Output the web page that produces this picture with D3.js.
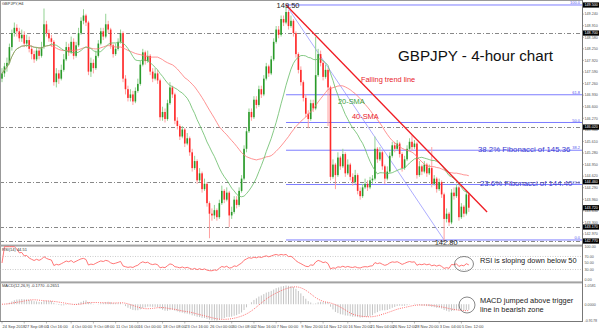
<!DOCTYPE html>
<html>
<head>
<meta charset="utf-8">
<script src="https://cdn.jsdelivr.net/npm/d3@7"></script>
<style>
  body { margin: 0; background: #fff; }
  svg { display: block; font-family: "Liberation Sans", Arial, sans-serif; }
</style>
</head>
<body>
<svg id="chart" width="600" height="330"></svg>
<script>
// 4-hour candles (opens follow the previous close)
const firstOpen = 147.40;
const closes = [
  147.55,147.75,147.85,148.30,148.70,148.85,148.75,148.55,148.65,148.40,
  148.50,148.25,148.10,147.95,148.20,148.05,148.30,148.95,148.70,148.55,
  148.45,147.30,147.55,147.40,147.65,147.95,148.30,148.15,148.45,148.05,
  148.35,148.70,149.05,149.20,149.00,147.60,147.85,147.70,148.05,148.40,
  148.75,148.60,148.95,148.80,148.35,148.10,148.25,148.45,148.70,147.40,
  147.10,146.85,146.95,146.75,147.05,147.25,147.80,148.15,147.90,148.05,
  147.60,147.40,147.55,147.35,146.30,146.45,146.25,146.70,147.15,146.95,
  146.20,146.05,145.75,145.95,145.55,145.70,145.30,144.85,145.05,144.50,
  144.70,144.25,144.40,143.85,143.55,143.50,143.65,143.45,143.85,144.20,
  143.95,144.15,143.50,143.60,143.95,143.80,144.20,144.55,145.40,145.90,
  146.45,146.30,146.80,146.65,147.10,146.95,147.40,147.75,147.55,147.95,
  148.45,148.80,148.65,149.10,149.00,149.30,148.90,149.05,148.70,148.10,
  147.65,147.30,146.85,146.40,146.25,146.70,146.55,147.50,148.10,147.85,
  147.45,147.65,147.15,144.60,144.95,144.65,145.15,144.90,145.25,144.70,
  144.95,144.60,144.45,144.65,144.20,144.05,144.30,144.40,144.30,144.50,
  144.55,145.40,145.10,145.30,144.90,144.55,144.75,145.20,145.50,145.40,
  145.55,145.25,144.85,145.10,145.40,145.60,145.45,145.55,144.65,144.90,
  144.75,144.95,144.70,144.85,144.40,144.55,144.25,144.45,144.10,143.40,
  143.55,143.30,144.15,144.05,144.30,143.45,143.75,143.55,144.10,143.72
];
const highs = [
  147.70,147.85,148.00,148.40,148.80,149.00,148.95,148.85,148.80,148.75,
  148.65,148.60,148.35,148.20,148.30,148.30,148.45,149.40,149.05,148.80,
  148.65,148.50,147.70,147.65,147.80,148.10,148.45,148.40,148.60,148.55,
  148.45,148.85,149.15,149.38,149.25,149.05,148.00,147.95,148.20,148.50,
  148.85,148.85,149.25,149.05,148.85,148.40,148.40,148.55,148.80,148.75,
  147.50,147.20,147.10,147.05,147.15,147.40,147.90,148.25,148.20,148.20,
  148.10,147.70,147.70,147.65,147.40,146.60,146.55,146.80,147.30,147.20,
  147.00,146.30,146.10,146.05,146.00,145.85,145.75,145.40,145.20,145.10,
  144.85,144.75,144.55,144.45,143.90,143.70,143.80,143.70,143.95,144.35,
  144.25,144.30,144.20,143.75,144.05,144.05,144.30,144.65,145.50,146.00,
  146.55,146.55,146.90,146.90,147.20,147.20,147.50,147.85,147.80,148.05,
  148.55,148.90,148.90,149.20,149.20,149.50,149.35,149.20,149.10,148.75,
  148.15,147.75,147.35,146.95,146.50,146.80,146.80,148.59,148.25,148.20,
  147.90,147.80,147.70,147.20,145.10,145.00,145.30,145.20,145.40,145.30,
  145.10,145.00,144.70,144.80,144.70,144.30,144.40,144.55,144.50,144.60,
  144.65,145.75,145.45,145.45,145.35,144.95,144.90,145.30,145.60,145.60,
  145.65,145.60,145.30,145.20,145.50,145.70,145.78,145.65,145.60,145.05,
  144.95,145.05,145.00,144.95,145.45,144.65,144.60,144.55,144.50,144.15,
  143.70,143.60,144.25,144.30,144.40,144.35,143.85,143.80,144.20,144.15
];
const lows = [
  147.30,147.45,147.60,147.80,148.20,148.60,148.60,148.45,148.45,148.30,
  148.30,148.15,147.95,147.85,147.90,147.95,148.00,148.25,148.60,148.45,
  148.30,147.20,147.15,147.25,147.35,147.60,147.90,148.05,148.10,147.95,
  148.00,148.30,148.65,148.95,148.90,147.50,147.45,147.55,147.65,148.00,
  148.35,148.50,148.55,148.70,148.25,148.00,148.05,148.20,148.40,147.30,
  146.95,146.75,146.75,146.65,146.70,147.00,147.20,147.75,147.80,147.85,
  147.50,147.30,147.35,147.25,146.20,146.20,146.15,146.20,146.65,146.85,
  146.10,145.95,145.65,145.70,145.45,145.50,145.20,144.75,144.80,144.40,
  144.45,144.15,144.20,143.75,142.85,143.35,143.40,143.35,143.40,143.80,
  143.85,143.90,143.17,143.40,143.55,143.70,143.75,144.15,144.50,145.30,
  145.85,146.20,146.25,146.55,146.60,146.85,146.90,147.35,147.45,147.50,
  147.90,148.40,148.55,148.60,148.90,148.95,148.80,148.85,148.60,148.00,
  147.55,147.20,146.75,146.30,145.99,146.20,146.45,146.50,147.45,147.75,
  147.35,147.40,146.05,144.50,144.55,144.25,144.60,144.80,144.85,144.60,
  144.65,144.50,144.35,144.40,144.10,143.95,144.00,144.25,144.20,144.25,
  144.40,144.50,145.00,145.05,144.80,144.40,144.50,144.70,145.15,145.30,
  145.35,145.15,144.75,144.80,145.05,145.35,145.35,145.40,144.55,144.60,
  144.65,144.70,144.60,144.65,144.30,144.35,144.15,144.20,144.00,142.80,
  143.30,143.20,143.25,143.95,144.00,143.35,143.40,143.45,143.50,143.60
];

// Fibonacci retracement between the 149.50 top and the 142.80 bottom
const fibHigh = { i: 115, p: 149.50 };
const fibLow = { i: 179, p: 142.80 };
const fibRatios = [1, 0.618, 0.5, 0.382, 0.236, 0];
const fibTags = ["100.0", "61.8", "50.0", "38.2", "23.6", "0.0"];
const fibNotes = ["38.2% Fibonacci of 145.36", "23.6% Fibonacci of 144.40"];

// falling trend line (second point lies past the last bar)
const trendStart = { i: 115, p: 149.50 };
const trendEnd = { i: 196.4, p: 143.60 };

// grey dash-dot support / resistance levels
const levelLines = [148.70, 146.02, 144.46, 143.17, 142.77];

const priceTicks = [149.240, 148.910, 148.580, 148.250, 147.920, 147.590, 147.260,
  146.930, 146.600, 146.270, 145.940, 145.610, 145.280, 144.950, 144.620, 144.290,
  143.960, 143.630, 143.300, 142.970];
const rsiTicks = [100, 70, 50, 30, 0];
const rsiLevels = [70, 30];

const dateTickIdx = [0, 9, 18, 28, 37, 46, 55, 65, 74, 84, 93, 102, 111, 121, 130,
  140, 149, 158, 167, 177, 186];
const dateTickLabels = ["24 Sep 2018", "27 Sep 08:00", "1 Oct 16:00", "4 Oct 00:00",
  "9 Oct 08:00", "11 Oct 16:00", "16 Oct 00:00", "18 Oct 08:00", "23 Oct 16:00",
  "26 Oct 00:00", "30 Oct 08:00", "2 Nov 16:00", "7 Nov 00:00", "9 Nov 20:00",
  "14 Nov 12:00", "16 Nov 20:00", "21 Nov 04:00", "26 Nov 12:00", "28 Nov 20:00",
  "3 Dec 04:00", "5 Dec 12:00"];

const opens = closes.map((c, i) => (i === 0 ? firstOpen : closes[i - 1]));

// indicators
function sma(vals, n) {
  return vals.map((v, i) => d3.mean(vals.slice(Math.max(0, i - n + 1), i + 1)));
}
function ema(vals, n) {
  const k = 2 / (n + 1);
  const out = [vals[0]];
  for (let i = 1; i < vals.length; i++) out.push(vals[i] * k + out[i - 1] * (1 - k));
  return out;
}
function rsi(vals, n) {
  const out = [50];
  let ag = 0, al = 0;
  for (let i = 1; i < vals.length; i++) {
    const d = vals[i] - vals[i - 1];
    const k = Math.min(i, n);
    ag = (ag * (k - 1) + Math.max(d, 0)) / k;
    al = (al * (k - 1) + Math.max(-d, 0)) / k;
    out.push(al === 0 ? 100 : 100 - 100 / (1 + ag / al));
  }
  return out;
}
const sma20 = sma(closes, 20);
const sma40 = sma(closes, 40);
const rsi14 = rsi(closes, 14);
const e12 = ema(closes, 12), e26 = ema(closes, 26);
const macd = e12.map((v, i) => v - e26[i]);
const signal = sma(macd, 9);

const svg = d3.select("#chart");
const plotRight = 582;

const x = d3.scaleLinear().domain([0, closes.length - 1]).range([2, 468.8]);
const y = d3.scaleLinear().domain([142.714, 149.557]).range([243, 3]);
const yRsi = d3.scaleLinear().domain([0, 100]).range([279.3, 246.7]);
const macdExt = d3.extent(macd.concat(signal));
const yMacd = d3.scaleLinear().domain(macdExt).range([320.5, 285.5]);

svg.append("defs").append("clipPath").attr("id", "mainClip")
  .append("rect").attr("x", 0).attr("y", 1).attr("width", plotRight).attr("height", 243);

const main = svg.append("g").attr("clip-path", "url(#mainClip)");

// dash-dot levels
main.selectAll("line.level").data(levelLines).join("line")
  .attr("class", "level")
  .attr("x1", 0).attr("x2", plotRight)
  .attr("y1", d => Math.round(y(d)) + 0.5).attr("y2", d => Math.round(y(d)) + 0.5)
  .attr("stroke", "#6a6a6a").attr("stroke-width", 0.8)
  .attr("stroke-dasharray", "4,2,1,2");

// fib levels
const fibLevels = fibRatios.map(r => fibLow.p + r * (fibHigh.p - fibLow.p));
main.selectAll("line.fib").data(fibLevels).join("line")
  .attr("class", "fib")
  .attr("x1", x(fibHigh.i)).attr("x2", plotRight)
  .attr("y1", d => y(d)).attr("y2", d => y(d))
  .attr("stroke", "#7d7dff").attr("stroke-width", 1);
main.selectAll("text.fibtag").data(fibLevels).join("text")
  .attr("class", "fibtag")
  .attr("x", plotRight - 2).attr("y", d => y(d) - 0.8)
  .attr("text-anchor", "end")
  .attr("font-size", 4).attr("fill", "#5555ee")
  .text((d, i) => fibTags[i]);
main.append("line")
  .attr("x1", x(fibHigh.i)).attr("y1", y(fibHigh.p))
  .attr("x2", x(fibLow.i)).attr("y2", y(fibLow.p))
  .attr("stroke", "#8a8aff").attr("stroke-width", 0.7);

// candles
const up = i => closes[i] >= opens[i];
const candles = main.append("g");
candles.selectAll("rect.wick").data(closes).join("rect")
  .attr("class", "wick")
  .attr("x", (d, i) => x(i) - 0.5).attr("width", 1)
  .attr("y", (d, i) => y(highs[i]))
  .attr("height", (d, i) => Math.max(0.5, y(lows[i]) - y(highs[i])))
  .attr("fill", (d, i) => (up(i) ? "#93d293" : "#ffa0a0"));
candles.selectAll("rect.body").data(closes).join("rect")
  .attr("class", "body")
  .attr("x", (d, i) => x(i) - 0.8).attr("width", 1.6)
  .attr("y", (d, i) => y(Math.max(opens[i], closes[i])))
  .attr("height", (d, i) => Math.max(0.6, Math.abs(y(opens[i]) - y(closes[i]))))
  .attr("fill", (d, i) => (up(i) ? "#2a9a2a" : "#ff2a2a"));

// moving averages
const priceLine = d3.line().x((d, i) => x(i)).y(d => y(d));
main.append("path").datum(sma40).attr("d", priceLine)
  .attr("fill", "none").attr("stroke", "#ff7777").attr("stroke-width", 0.8);
main.append("path").datum(sma20).attr("d", priceLine)
  .attr("fill", "none").attr("stroke", "#66bb66").attr("stroke-width", 0.8);

// trend line
main.append("line")
  .attr("x1", x(trendStart.i)).attr("y1", y(trendStart.p))
  .attr("x2", x(trendEnd.i)).attr("y2", y(trendEnd.p))
  .attr("stroke", "#f01c24").attr("stroke-width", 1.3);

// annotations in the main panel
const note = (t, px, py, size, color, anchor = "start") =>
  svg.append("text").attr("x", px).attr("y", py).attr("font-size", size)
    .attr("fill", color).attr("text-anchor", anchor).text(t);

note("GBPJPY,H4", 2, 4.5, 4, "#333");
note("GBPJPY - 4-hour chart", 398, 61, 15.2, "#111");
note("Falling trend line", 361, 82, 7.4, "#e8202a");
note("20-SMA", 338, 104, 7.4, "#3da33d");
note("40-SMA", 352, 118.5, 7.4, "#e8202a");
note(fibNotes[0], 478, 151.5, 7.8, "#3a3ad0");
note(fibNotes[1], 480, 185.5, 7.8, "#3a3ad0");
note(fibHigh.p.toFixed(2), x(fibHigh.i) + 2, 7.5, 7.5, "#222", "middle");
note(fibLow.p.toFixed(2), x(fibLow.i) + 2, 245, 7.5, "#222", "middle");

// frame, separators and right axis
svg.append("line").attr("x1", 0.5).attr("x2", 0.5).attr("y1", 0).attr("y2", 322)
  .attr("stroke", "#999").attr("stroke-width", 1);
svg.append("line").attr("x1", 0).attr("x2", plotRight).attr("y1", 0.5).attr("y2", 0.5)
  .attr("stroke", "#999");
svg.append("rect").attr("x", 0).attr("y", 244.6).attr("width", plotRight).attr("height", 2)
  .attr("fill", "#a3a3a3");
svg.append("rect").attr("x", 0).attr("y", 281.4).attr("width", plotRight).attr("height", 2)
  .attr("fill", "#a3a3a3");
svg.append("line").attr("x1", 0).attr("x2", plotRight).attr("y1", 321.5).attr("y2", 321.5)
  .attr("stroke", "#777");
svg.append("line").attr("x1", plotRight + 0.5).attr("x2", plotRight + 0.5)
  .attr("y1", 0).attr("y2", 322).attr("stroke", "#777");

const axisText = (t, py, color = "#555") =>
  svg.append("text").attr("x", plotRight + 2.5).attr("y", py + 1.3)
    .attr("font-size", 3.7).attr("fill", color).text(t);

priceTicks.forEach(p => {
  svg.append("line").attr("x1", plotRight).attr("x2", plotRight + 2)
    .attr("y1", y(p)).attr("y2", y(p)).attr("stroke", "#777").attr("stroke-width", 0.5);
  axisText(p.toFixed(3), y(p));
});

// black price tags on the axis
const tagPrices = [fibHigh.p].concat(levelLines, [closes[closes.length - 1]]);
tagPrices.forEach(p => {
  svg.append("rect").attr("x", plotRight + 1).attr("y", y(p) - 2.6)
    .attr("width", 16).attr("height", 5.2).attr("fill", "#000");
  axisText(p.toFixed(3), y(p), "#fff");
});

// RSI panel
svg.selectAll("line.rsilevel").data(rsiLevels).join("line")
  .attr("class", "rsilevel")
  .attr("x1", 0).attr("x2", plotRight)
  .attr("y1", d => yRsi(d)).attr("y2", d => yRsi(d))
  .attr("stroke", "#aaa").attr("stroke-width", 0.6).attr("stroke-dasharray", "1,1.5");
svg.append("path").datum(rsi14)
  .attr("d", d3.line().x((d, i) => x(i)).y(d => yRsi(d)))
  .attr("fill", "none").attr("stroke", "#ff6666").attr("stroke-width", 0.9);
rsiTicks.forEach(v => axisText(v.toFixed(2), yRsi(v)));
note("RSI(14) 44.51", 2, 250.5, 4, "#333");
svg.append("ellipse").attr("cx", 464).attr("cy", 264).attr("rx", 9.5).attr("ry", 7.5)
  .attr("fill", "none").attr("stroke", "#555").attr("stroke-width", 0.7);
note("RSI is sloping down below 50", 480, 263, 7.4, "#222");

// MACD panel
svg.selectAll("line.hist").data(macd).join("line")
  .attr("class", "hist")
  .attr("x1", (d, i) => x(i)).attr("x2", (d, i) => x(i))
  .attr("y1", yMacd(0)).attr("y2", d => yMacd(d))
  .attr("stroke", "#c4c4c4").attr("stroke-width", 1);
svg.append("path").datum(signal)
  .attr("d", d3.line().x((d, i) => x(i)).y(d => yMacd(d)))
  .attr("fill", "none").attr("stroke", "#ff5c5c").attr("stroke-width", 0.9)
  .attr("stroke-dasharray", "1,1.2");
[macdExt[1], 0, macdExt[0]].forEach(v => axisText(v.toFixed(4), yMacd(v)));
note("MACD(12,26,9) -0.1770 -0.2651", 2, 287, 4, "#333");
svg.append("ellipse").attr("cx", 467).attr("cy", 305).attr("rx", 8).attr("ry", 8)
  .attr("fill", "none").attr("stroke", "#555").attr("stroke-width", 0.7);
note("MACD jumped above trigger", 480, 303, 7.4, "#222");
note("line in bearish zone", 480, 312, 7.4, "#222");

// date axis
dateTickIdx.forEach((idx, k) => {
  svg.append("line").attr("x1", x(idx)).attr("x2", x(idx)).attr("y1", 321.5).attr("y2", 323.5)
    .attr("stroke", "#777").attr("stroke-width", 0.5);
  svg.append("text").attr("x", x(idx) + 0.5).attr("y", 327.5)
    .attr("font-size", 4).attr("fill", "#444").text(dateTickLabels[k]);
});
</script>
</body>
</html>
